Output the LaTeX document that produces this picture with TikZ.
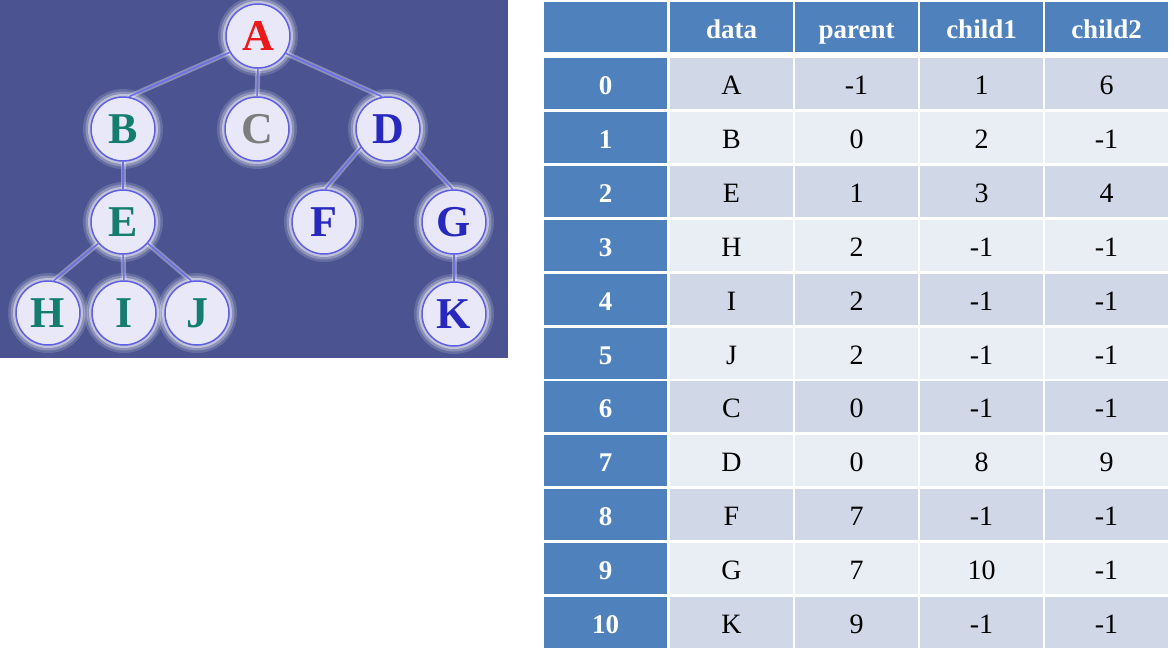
\documentclass[tikz,border=0pt]{standalone}
\usepackage{fontspec}
\setmainfont{Liberation Serif}
\pgfdeclarelayer{back}
\pgfdeclarelayer{mid}
\pgfsetlayers{back,mid,main}
\definecolor{treebg}{RGB}{75,84,145}
\definecolor{nodefill}{RGB}{232,232,248}
\definecolor{nodeline}{RGB}{95,95,225}
\definecolor{edgeblue}{RGB}{110,110,235}
\definecolor{cred}{RGB}{235,25,25}
\definecolor{cteal}{RGB}{20,125,112}
\definecolor{cgray}{RGB}{125,125,125}
\definecolor{cblue}{RGB}{40,40,190}
\definecolor{hdrblue}{RGB}{79,129,189}
\definecolor{rowdark}{RGB}{208,216,232}
\definecolor{rowlight}{RGB}{233,237,244}
\begin{document}
\begin{tikzpicture}[x=1pt,y=-1pt,
  tnode/.style={circle, minimum size=64pt, inner sep=0pt, fill=nodefill, draw=nodeline, line width=1.5pt, font=\fontsize{44}{44}\selectfont\bfseries},
  edge/.style={draw=edgeblue, line width=1.5pt, preaction={draw=white, line width=5pt, draw opacity=0.35}},
  glow/.style={fill=white, fill opacity=#1},
  cell/.style={rectangle, inner sep=0pt, minimum width=123pt, minimum height=51pt, text height=25pt, text depth=3pt, font=\fontsize{28}{28}\selectfont},
  hcell/.style={cell, fill=hdrblue, text=white, font=\fontsize{27}{27}\selectfont\bfseries},
]
\useasboundingbox (0,0) rectangle (1174,659);
% tree nodes
\node[tnode, text=cred]  (A) at (258,36)  {A};
\node[tnode, text=cteal] (B) at (123,129) {B};
\node[tnode, text=cgray] (C) at (257,129) {C};
\node[tnode, text=cblue] (D) at (388,129) {D};
\node[tnode, text=cteal] (E) at (123,222) {E};
\node[tnode, text=cblue] (F) at (324,222) {F};
\node[tnode, text=cblue] (G) at (454,222) {G};
\node[tnode, text=cteal] (H) at (48,313)  {H};
\node[tnode, text=cteal] (I) at (124,313) {I};
\node[tnode, text=cteal] (J) at (197,313) {J};
\node[tnode, text=cblue] (K) at (454,314) {K};
\begin{pgfonlayer}{back}
  \fill[white] (0,0) rectangle (1174,659);
  \fill[treebg] (0,0) rectangle (508,358);
  \foreach \n in {A,B,C,D,E,F,G,H,I,J,K} {
    \fill[glow=0.15] (\n.center) circle (40);
    \fill[glow=0.25] (\n.center) circle (37.5);
    \fill[glow=0.45] (\n.center) circle (35);
  }
\end{pgfonlayer}
\begin{pgfonlayer}{mid}
  \draw[edge] (A.210) -- (B.80);
  \draw[edge] (A.south) -- (C.north);
  \draw[edge] (A.328) -- (D.100);
  \draw[edge] (B.south) -- (E.north);
  \draw[edge] (D.214) -- (F.88);
  \draw[edge] (D.324) -- (G.92);
  \draw[edge] (E.221) -- (H.80);
  \draw[edge] (E.south) -- (I.north);
  \draw[edge] (E.319) -- (J.100);
  \draw[edge] (G.south) -- (K.north);
\end{pgfonlayer}
% table header
\node[hcell, minimum height=50pt] (h0) at (605.5,27) {};
\node[hcell, minimum height=50pt] (h1) at (731.5,27) {data};
\node[hcell, minimum height=50pt] (h2) at (856.5,27) {parent};
\node[hcell, minimum height=50pt] (h3) at (981.5,27) {child1};
\node[hcell, minimum height=50pt] (h4) at (1106.5,27) {child2};
% table rows
\foreach \r/\d/\p/\ca/\cb in {0/A/-1/1/6, 1/B/0/2/-1, 2/E/1/3/4, 3/H/2/-1/-1, 4/I/2/-1/-1, 5/J/2/-1/-1, 6/C/0/-1/-1, 7/D/0/8/9, 8/F/7/-1/-1, 9/G/7/10/-1, 10/K/9/-1/-1} {
  \pgfmathsetmacro\yc{58+\r*53.9+25.5}
  \ifodd\r \def\rowc{rowlight}\else\def\rowc{rowdark}\fi
  \node[hcell] (t-\r-0) at (605.5,\yc) {\r};
  \node[cell, fill=\rowc] (t-\r-1) at (731.5,\yc) {\d};
  \node[cell, fill=\rowc] (t-\r-2) at (856.5,\yc) {\p};
  \node[cell, fill=\rowc] (t-\r-3) at (981.5,\yc) {\ca};
  \node[cell, fill=\rowc] (t-\r-4) at (1106.5,\yc) {\cb};
}
\end{tikzpicture}
\end{document}
